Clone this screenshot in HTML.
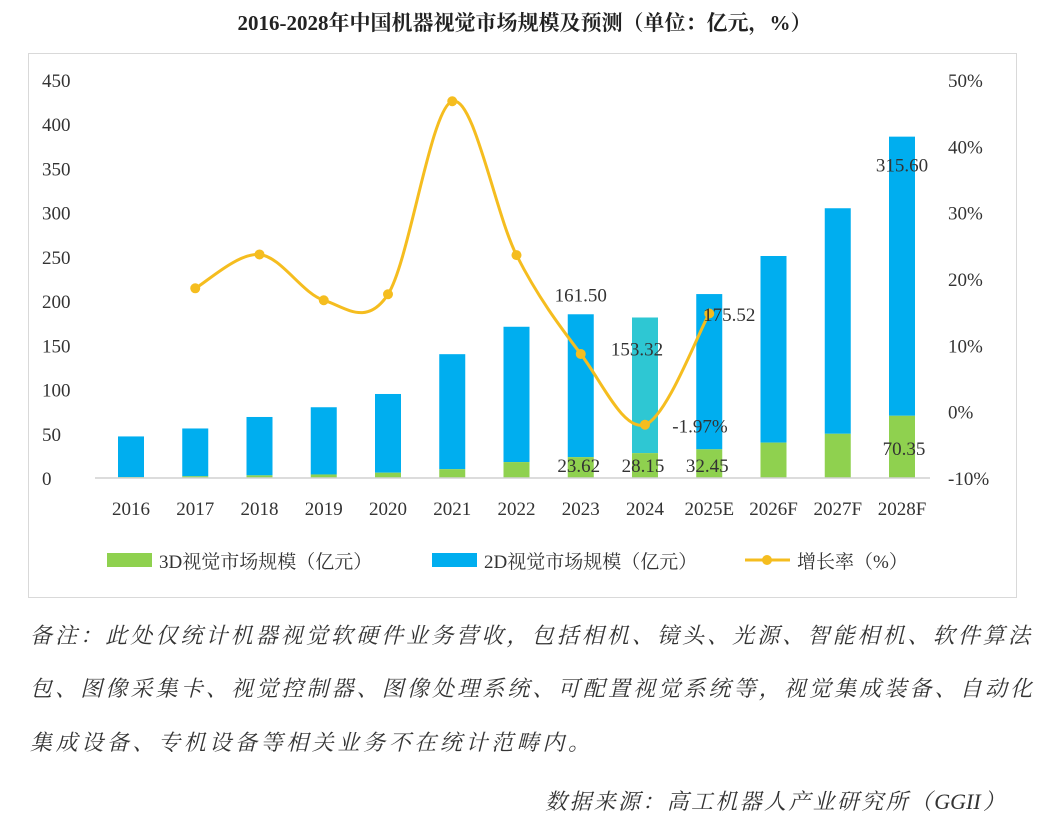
<!DOCTYPE html>
<html><head><meta charset="utf-8"><style>
body{margin:0;background:#fff;width:1049px;height:822px;overflow:hidden;font-family:"Liberation Serif","Noto Serif CJK SC",serif}
.t{position:absolute;white-space:nowrap}
.fn{position:absolute;left:30px;font-size:22px;font-style:italic;color:#333;text-align:justify;text-align-last:justify;white-space:nowrap}
</style></head><body>
<div class="t" style="left:0;width:1049px;text-align:center;top:7px;font-size:21px;font-weight:bold;color:#222">2016-2028年中国机器视觉市场规模及预测（单位：亿元，%）</div>
<div style="position:absolute;left:28px;top:53px;width:987px;height:543px;border:1px solid #d9d9d9"></div>
<svg id="c" width="1049" height="822" style="position:absolute;left:0;top:0"></svg>
<div>
<div class="fn" style="top:619px;width:1000px">备注：此处仅统计机器视觉软硬件业务营收，包括相机、镜头、光源、智能相机、软件算法</div>
<div class="fn" style="top:672px;width:1002px">包、图像采集卡、视觉控制器、图像处理系统、可配置视觉系统等，视觉集成装备、自动化</div>
<div class="fn" style="top:726px;width:560px">集成设备、专机设备等相关业务不在统计范畴内。</div>
</div>
<div class="fn" style="left:545px;top:785px;width:460px">数据来源：高工机器人产业研究所（GGII）</div>
<script>
const categories=["2016","2017","2018","2019","2020","2021","2022","2023","2024","2025E","2026F","2027F","2028F"];
const values3D=[1,2,3,4,6,10,18,23.62,28.15,32.45,40,50,70.35];
const values2D=[46,54,66,76,89,130,153,161.5,153.32,175.52,211,255,315.6];
const growth=[null,18.6,23.7,16.8,17.7,46.8,23.6,8.7,-1.97,14.8,null,null,null];
const leftTicks=[0,50,100,150,200,250,300,350,400,450];
const rightTicks=[-10,0,10,20,30,40,50];
const labels3D={7:"23.62",8:"28.15",9:"32.45",12:"70.35"};
const labels2D={7:"161.50",8:"153.32",9:"175.52",12:"315.60"};
const NS="http://www.w3.org/2000/svg",svg=document.getElementById('c');
const y0=478,yTop=80,x0=131,dx=64.25,bw=26;
const yL=v=>y0-v/450*(y0-yTop);
const yR=v=>y0-(v+10)/60*(y0-yTop);
const xC=i=>x0+i*dx;
function el(t,a,txt){const e=document.createElementNS(NS,t);for(const k in a)e.setAttribute(k,a[k]);if(txt!=null)e.textContent=txt;svg.appendChild(e);return e;}
const F='"Liberation Serif","Noto Serif CJK SC",serif';
leftTicks.forEach(v=>{const e=el('text',{x:42,y:yL(v)+7,'font-size':19,fill:'#333','font-family':F},v);

});
rightTicks.forEach(v=>{const e=el('text',{x:948,y:yR(v)+7,'font-size':19,fill:'#333','font-family':F},v+'%');

});
categories.forEach((c,i)=>{
const h3=y0-yL(values3D[i]),h2=yL(values3D[i])-yL(values3D[i]+values2D[i]);
const b2=el('rect',{x:xC(i)-bw/2,y:yL(values3D[i]+values2D[i]),width:bw,height:h2,fill:i==8?'#2ec7d3':'#00aeef'});


const b3=el('rect',{x:xC(i)-bw/2,y:yL(values3D[i]),width:bw,height:h3,fill:'#8fd14f'});


const t=el('text',{x:xC(i),y:515,'font-size':19,fill:'#333','text-anchor':'middle','font-family':F},c);


});
const ax=el('line',{x1:95,x2:930,y1:y0,y2:y0,stroke:'#d0d0d0','stroke-width':1.5});


const pts=[];growth.forEach((g,i)=>{if(g!=null)pts.push([xC(i),yR(g)]);});
let d='M'+pts[0];
for(let i=0;i<pts.length-1;i++){const p0=pts[Math.max(0,i-1)],p1=pts[i],p2=pts[i+1],p3=pts[Math.min(pts.length-1,i+2)];
d+=' C'+(p1[0]+(p2[0]-p0[0])/6)+','+(p1[1]+(p2[1]-p0[1])/6)+' '+(p2[0]-(p3[0]-p1[0])/6)+','+(p2[1]-(p3[1]-p1[1])/6)+' '+p2[0]+','+p2[1];}
const ln=el('path',{d:d,fill:'none',stroke:'#f5bd1f','stroke-width':3});


pts.forEach(p=>{const c=el('circle',{cx:p[0],cy:p[1],r:5,fill:'#f5bd1f'});

});
for(const i in labels2D){const v=values3D[i]+values2D[i];const t=el('text',{x:xC(+i)+(i==8?-8:i==9?20:0),y:i==8?yL(v)+38:i==9?yL(v)+27:i==12?yL(v)+35:yL(v)-13,'font-size':19,fill:'#333','text-anchor':'middle','font-family':F},labels2D[i]);

}
for(const i in labels3D){const t=el('text',{x:xC(+i)+(i==12?2:-2),y:i==12?455:472,'font-size':19,fill:'#333','text-anchor':'middle','font-family':F},labels3D[i]);

}
const gl=el('text',{x:700,y:yR(growth[8])+8,'font-size':19,fill:'#333','text-anchor':'middle','font-family':F},growth[8].toFixed(2)+'%');


const lg=[[107,'#8fd14f','3D视觉市场规模（亿元）'],[432,'#00aeef','2D视觉市场规模（亿元）']];
lg.forEach(l=>{const r=el('rect',{x:l[0],y:553,width:45,height:14,fill:l[1]});


const t=el('text',{x:l[0]+52,y:568,'font-size':19,fill:'#333','font-family':F},l[2]);

});
const ll=el('line',{x1:745,x2:790,y1:560,y2:560,stroke:'#f5bd1f','stroke-width':3});


const lc=el('circle',{cx:767,cy:560,r:5,fill:'#f5bd1f'});


const lt=el('text',{x:797,y:568,'font-size':19,fill:'#333','font-family':F},'增长率（%）');


</script>
</body></html>
